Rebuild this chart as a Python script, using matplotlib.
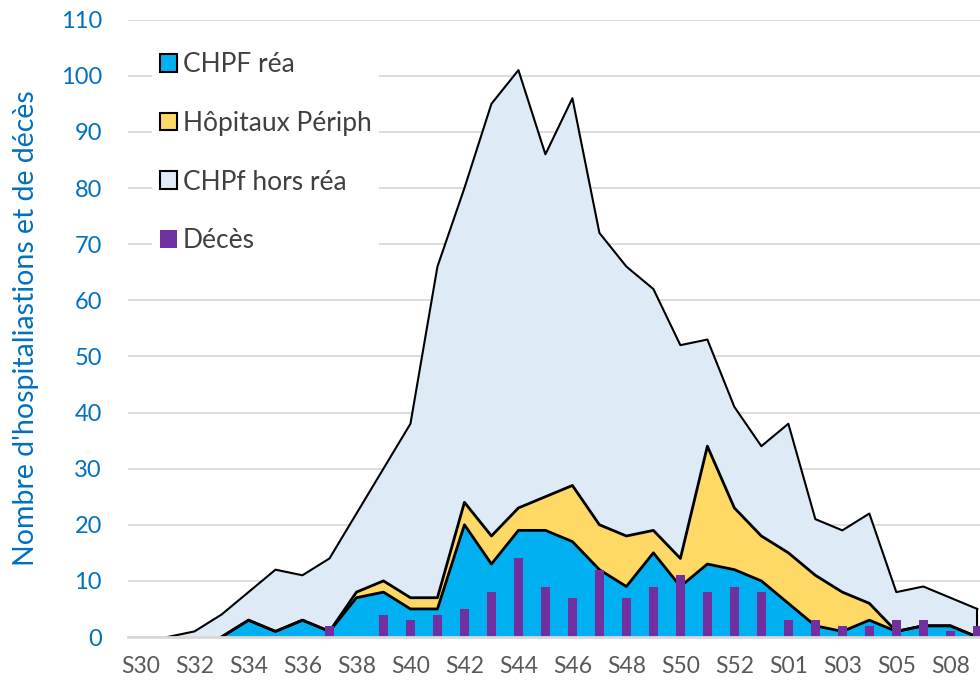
import numpy as np
import matplotlib
matplotlib.use('Agg')
import matplotlib.pyplot as plt
from matplotlib.patches import Patch

plt.rcParams['font.family'] = ['Lato', 'DejaVu Sans']

# --- données ---
semaines = ['S30', 'S31', 'S32', 'S33', 'S34', 'S35', 'S36', 'S37', 'S38', 'S39',
            'S40', 'S41', 'S42', 'S43', 'S44', 'S45', 'S46', 'S47', 'S48', 'S49',
            'S50', 'S51', 'S52', 'S53', 'S01', 'S02', 'S03', 'S04', 'S05', 'S06',
            'S08', 'S09']
nan = np.nan
chpf_rea = [nan, nan, nan, 0, 3, 1, 3, 1, 7, 8,
            5, 5, 20, 13, 19, 19, 17, 12, 9, 15,
            9, 13, 12, 10, 6, 2, 1, 3, 1, 2,
            2, 0]
hop_periph = [nan, nan, nan, 0, 0, 0, 0, 0, 1, 2,
              2, 2, 4, 5, 4, 6, 10, 8, 9, 4,
              5, 21, 11, 8, 9, 9, 7, 3, 0, 0,
              0, 0]
chpf_hors_rea = [nan, 0, 1, 4, 5, 11, 8, 13, 14, 20,
                 31, 59, 56, 77, 78, 61, 69, 52, 48, 43,
                 38, 19, 18, 16, 23, 10, 11, 16, 7, 7,
                 5, 5]
deces = [0, 0, 0, 0, 0, 0, 0, 2, 0, 4,
         3, 4, 5, 8, 14, 9, 7, 12, 7, 9,
         11, 8, 9, 8, 3, 3, 2, 2, 3, 3,
         1, 2]

x = np.arange(len(semaines))
rea = np.array(chpf_rea, dtype=float)
per = np.array(hop_periph, dtype=float)
hors = np.array(chpf_hors_rea, dtype=float)

lvl1 = rea
lvl2 = np.nan_to_num(rea) + per
lvl2[np.isnan(per)] = nan
lvl3 = np.nan_to_num(rea) + np.nan_to_num(per) + hors
lvl3[np.isnan(hors)] = nan

c_rea = '#00B0F0'
c_per = '#FFD966'
c_hors = '#DEEAF6'
c_dec = '#7030A0'
c_grid = '#D9D9D9'
c_blue_txt = '#0070C0'

fig = plt.figure(figsize=(9.8, 6.86), dpi=100)
ax = fig.add_axes([0.131, 0.0714, 0.869, 0.9])

z1 = np.nan_to_num(lvl1)
z2 = np.nan_to_num(lvl2)
ax.fill_between(x, z2, lvl3, where=~np.isnan(lvl3), color=c_hors, lw=0, zorder=2)
ax.fill_between(x, z1, z2, color=c_per, lw=0, zorder=3)
ax.fill_between(x, 0, lvl1, where=~np.isnan(lvl1), color=c_rea, lw=0, zorder=4)

ax.plot(x, lvl3, color='black', lw=1.5, zorder=5)
ax.plot(x, lvl2, color='black', lw=2, zorder=5)
ax.plot(x, lvl1, color='black', lw=2, zorder=5)
# bord droit de l'aire
ax.plot([x[-1], x[-1]], [0, lvl3[-1]], color='black', lw=1.5, zorder=5)

ax.bar(x, deces, width=0.33, color=c_dec, zorder=6)

ax.set_xlim(-0.45, 31.1)
ax.set_ylim(0, 110)
ax.set_yticks(np.arange(0, 111, 10))
ax.set_xticks(x[::2])
ax.set_xticklabels(semaines[::2])
ax.yaxis.grid(True, color=c_grid, lw=1.3, zorder=0)
ax.set_axisbelow(True)
for s in ['top', 'right', 'left']:
    ax.spines[s].set_visible(False)
ax.spines['bottom'].set_color(c_grid)
ax.spines['bottom'].set_linewidth(2)
ax.spines['bottom'].set_zorder(7)
ax.tick_params(axis='both', length=0)
ax.tick_params(axis='y', labelsize=17, labelcolor=c_blue_txt, pad=19)
ax.tick_params(axis='x', labelsize=16.5, labelcolor='#595959', pad=14)
ax.set_ylabel("Nombre d'hospitaliastions et de décès", fontsize=20.5,
              color=c_blue_txt, labelpad=16)

handles = [Patch(facecolor=c_rea, edgecolor='black', lw=1.5, label='CHPF réa'),
           Patch(facecolor=c_per, edgecolor='black', lw=1.5, label='Hôpitaux Périph'),
           Patch(facecolor=c_hors, edgecolor='black', lw=1.5, label='CHPf hors réa'),
           Patch(facecolor=c_dec, edgecolor='none', label='Décès')]
leg = ax.legend(handles=handles, loc='upper left', bbox_to_anchor=(0.142, 0.955),
                bbox_transform=fig.transFigure, fontsize=19, frameon=True,
                edgecolor='none', facecolor='white', framealpha=1, fancybox=False,
                labelspacing=1.28, handlelength=0.65, handleheight=0.65,
                handletextpad=0.2, borderpad=0.3, labelcolor='#404040')
leg.set_zorder(8)

fig.savefig('out.png', dpi=100)
